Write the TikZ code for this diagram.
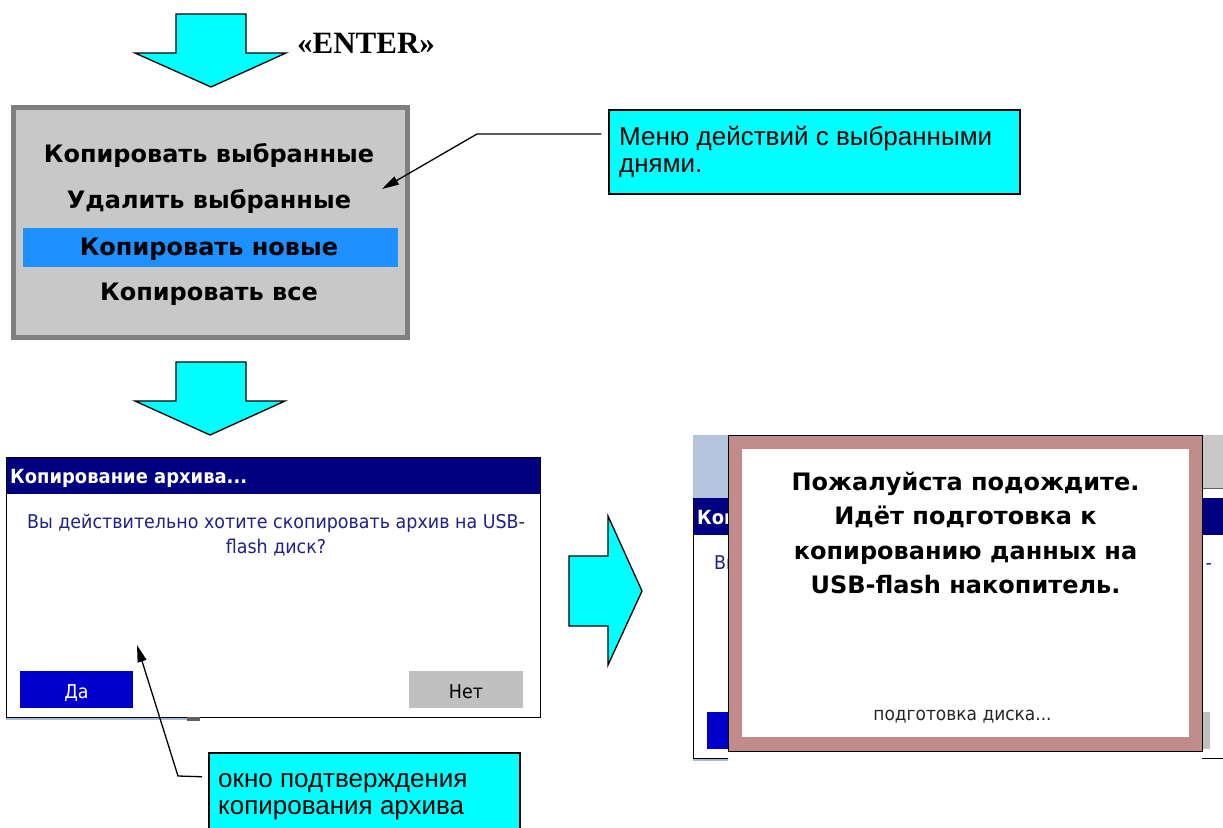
\documentclass[tikz,border=0pt]{standalone}
\usepackage{fontspec}
\usetikzlibrary{arrows.meta}
\newfontfamily\scrfont{DejaVu Sans}
\newfontfamily\scrnar[FakeStretch=0.92]{DejaVu Sans}
\newfontfamily\arfont{Liberation Sans}
\newfontfamily\serfont{Liberation Serif}
\definecolor{cyanA}{HTML}{00FFFF}
\definecolor{menugray}{HTML}{C8C8C8}
\definecolor{menuborder}{HTML}{7F7F7F}
\definecolor{hlblue}{HTML}{1E90FF}
\definecolor{navyA}{HTML}{000080}
\definecolor{btnblue}{HTML}{0000CC}
\definecolor{btngray}{HTML}{C0C0C0}
\definecolor{dlgtext}{HTML}{202088}
\definecolor{roseA}{HTML}{BF8B8B}
\definecolor{steelA}{HTML}{B4C6DE}
\definecolor{underblue}{HTML}{A4BCE0}
\definecolor{darkmark}{HTML}{606060}
\tikzset{
  bigarrow/.style={fill=cyanA, draw=black, line width=1.3pt, line join=miter},
  callbox/.style={draw=black, line width=1.5pt, fill=cyanA, inner sep=0pt},
  calltext/.style={font=\arfont\fontsize{26}{27}\selectfont, anchor=base west, inner sep=0pt},
  leader/.style={draw=black, line width=1.3pt, -{Triangle[length=17pt,width=9pt]}},
  menutext/.style={font=\scrfont\bfseries\fontsize{24}{28}\selectfont, anchor=base, inner sep=0pt},
  dlgtitle/.style={font=\scrnar\bfseries\fontsize{19.5}{22}\selectfont, text=white, anchor=base west, inner sep=0pt},
  dlgbody/.style={font=\scrnar\fontsize{19}{22}\selectfont, text=dlgtext, anchor=base, inner sep=0pt},
  btntext/.style={font=\scrnar\fontsize{19}{22}\selectfont, anchor=base, inner sep=0pt},
  waittext/.style={font=\scrfont\bfseries\fontsize{24}{30}\selectfont, anchor=base, inner sep=0pt},
  smalltext/.style={font=\scrnar\fontsize{18.5}{20}\selectfont, anchor=base, inner sep=0pt, text=black!85}
}
\begin{document}
\begin{tikzpicture}[x=1pt,y=-1pt]
\useasboundingbox (0,0) rectangle (1223,827);
\clip (0,0) rectangle (1223,827);
\fill[white] (0,0) rectangle (1223,827);

% top arrow and ENTER
\draw[bigarrow] (176,14) -- (246,14) -- (246,53) -- (286,53) -- (211,87) -- (135,53) -- (176,53) -- cycle;
\node[font=\serfont\bfseries\fontsize{31}{34}\selectfont, anchor=base, inner sep=0pt] (enter) at (366,53) {«ENTER»};

% menu
\draw[line width=5pt, draw=menuborder, fill=menugray] (13.5,107.5) rectangle (407.5,337.5);
\fill[hlblue] (23,228) rectangle (398,267);
\node[menutext] (m1) at (209,162) {Копировать выбранные};
\node[menutext] (m2) at (209,208) {Удалить выбранные};
\node[menutext] (m3) at (209,255) {Копировать новые};
\node[menutext] (m4) at (209,300) {Копировать все};

% callout 1
\node[callbox, minimum width=411pt, minimum height=84pt] (c1) at (814.5,152) {};
\node[calltext] (c1a) at (619,145.5) {Меню действий с выбранными};
\node[calltext] (c1b) at (619,172) {днями.};
\coordinate (bend1) at (477,134);
\coordinate (tip1) at (382,189);
\draw[leader] ([xshift=-7pt,yshift=18pt]c1.west) -- (bend1) -- (tip1);

% middle arrow
\draw[bigarrow] (176,362) -- (246,362) -- (246,401) -- (285,401) -- (210,435) -- (135,401) -- (176,401) -- cycle;

% left dialog
\fill[white] (6,457) rectangle (540,717);
\fill[navyA] (6,457) rectangle (540,494);
\node[dlgtitle] (Ltitle) at (10,483) {Копирование архива...};
\node[dlgbody] (Lqa) at (276,528) {Вы действительно хотите скопировать архив на USB-};
\node[dlgbody] (Lqb) at (276,553) {flash диск?};
\fill[btnblue] (20,671) rectangle (133,708);
\node[btntext, text=white] (Lyes) at (76.5,698) {Да};
\fill[btngray] (409,671) rectangle (523,708);
\node[btntext, text=black] (Lno) at (466,698) {Нет};
\draw[black, line width=1pt] (6,457) rectangle (540,717);
\draw[underblue, line width=1.5pt] (6,719) -- (187,719);
\fill[darkmark] (187,717) rectangle (200,721);

% right arrow
\draw[bigarrow] (569,556) -- (608,556) -- (608,516) -- (642,591) -- (608,665) -- (608,626) -- (569,626) -- cycle;

% callout 2
\node[callbox, minimum width=311pt, minimum height=88pt, anchor=north west] (c2) at (208,752) {};
\node[calltext] (c2a) at (218,787) {окно подтверждения};
\node[calltext] (c2b) at (218,814) {копирования архива};
\coordinate (bend2) at (178,776);
\coordinate (tip2) at (137,645);
\draw[leader] ([xshift=-6pt,yshift=20pt]c2.west) -- (bend2) -- (tip2);

% right screen background (visible strips of the dialog behind)
\begin{scope}
  \clip (693,420) rectangle (728,780) (1202,420) rectangle (1223,780);
  \fill[steelA] (693,435) rectangle (1000,498);
  \fill[menugray] (1000,435) rectangle (1223,488);
  \draw[darkmark, line width=1.5pt] (1000,488.5) -- (1223,488.5);
  \fill[white] (693,498) rectangle (1223,758);
  \fill[navyA] (693,498) rectangle (1223,535);
  \node[dlgtitle] (Rtitle) at (697,524) {Коп};
  \node[dlgbody, anchor=base west] (Rqa) at (714,569) {Вы};
  \node[dlgbody, anchor=base east] (Rqb) at (1212,569) {-};
  \fill[btnblue] (707,712) rectangle (820,749);
  \fill[btngray] (1096,712) rectangle (1210,749);
  \draw[black, line width=1pt] (693,498) -- (693,758) -- (1223,758);
  \draw[underblue, line width=1.5pt] (693,760) -- (874,760);
  \fill[darkmark] (874,758) rectangle (887,762);
\end{scope}

% overlay wait window
\draw[black, line width=1pt, fill=roseA] (728,435) rectangle (1202,751);
\fill[white] (742,449) rectangle (1189,737);
\node[waittext] (w1) at (965.5,490) {Пожалуйста подождите.};
\node[waittext] (w2) at (965.5,524.5) {Идёт подготовка к};
\node[waittext] (w3) at (965.5,559) {копированию данных на};
\node[waittext] (w4) at (965.5,593) {USB-flash накопитель.};
\node[smalltext] (w5) at (962.5,720) {подготовка диска...};
\end{tikzpicture}
\end{document}
